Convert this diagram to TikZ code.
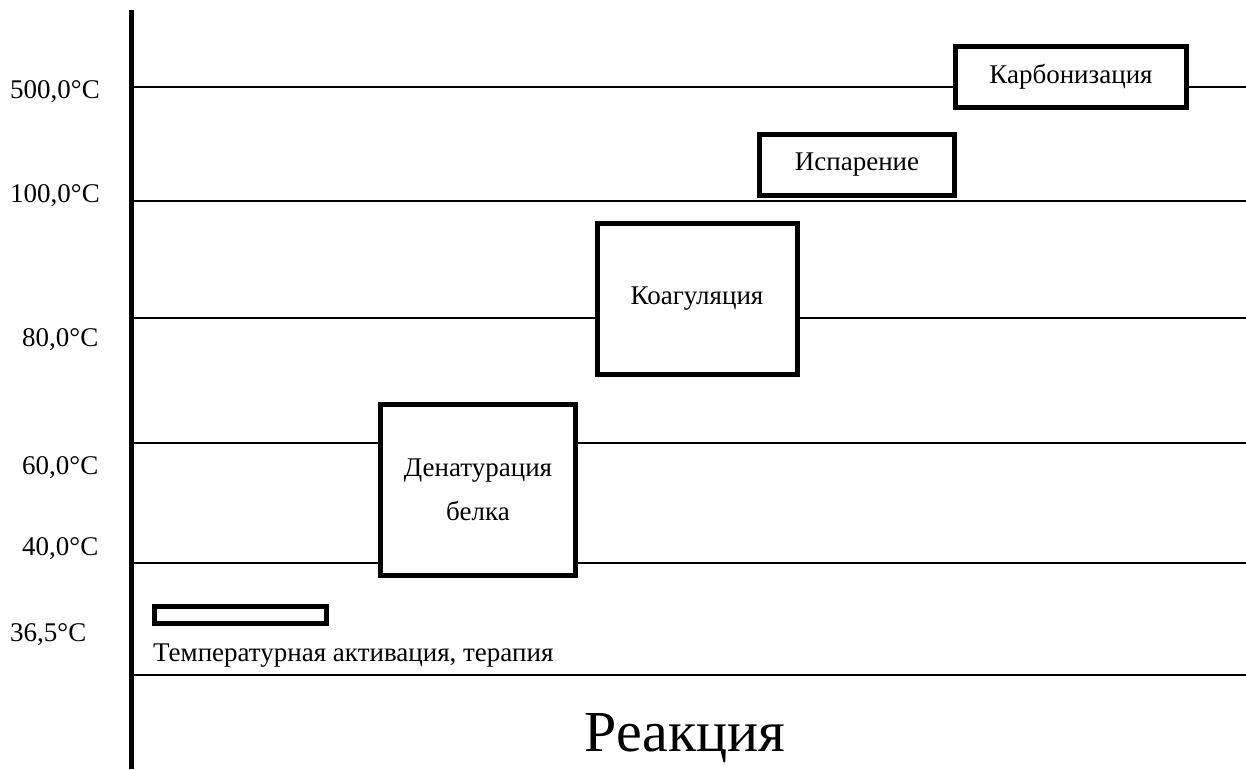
\documentclass[tikz,border=0pt]{standalone}
\usepackage{fontspec}
\setmainfont{Liberation Serif}

\tikzset{
  stagebox/.style={draw, line width=5pt, fill=white, inner sep=0pt, align=center,
    font=\fontsize{27}{44}\selectfont},
  templabel/.style={anchor=west, inner sep=0pt, font=\fontsize{27}{30}\selectfont},
}

\begin{document}
\begin{tikzpicture}[x=1pt,y=-1pt]
    \useasboundingbox (0,0) rectangle (1246,769);
    % temperature levels
    \foreach \y in {87,201,318,443,563,675}
        \draw[line width=2pt] (131,\y) -- (1246,\y);
    \draw[line width=5pt] (131,10) -- (131,769);
    % labels
    \node[templabel] (t500) at (10,92) {500,0°C};
    \node[templabel] (t100) at (10,196) {100,0°C};
    \node[templabel] (t80) at (22,340) {80,0°C};
    \node[templabel] (t60) at (22,468) {60,0°C};
    \node[templabel] (t40) at (22,549) {40,0°C};
    \node[templabel] (t36) at (10,635) {36,5°C};
    % stages
    \node[stagebox, minimum width=231pt, minimum height=61pt] (carb) at (1071,77) {Карбонизация};
    \node[stagebox, minimum width=195pt, minimum height=61pt] (evap) at (857,165) {Испарение};
    \node[stagebox, minimum width=200pt, minimum height=151pt] (coag) at (697,299) {Коагуляция};
    \node[stagebox, minimum width=195pt, minimum height=171pt] (denat) at (478,490) {Денатурация\\белка};
    \node[draw, line width=5pt, fill=white, minimum width=172pt, minimum height=17pt, inner sep=0pt] (ther) at (240,615) {};
    \node[anchor=west, inner sep=0pt, font=\fontsize{27}{30}\selectfont] (thertext) at (153,656) {Температурная активация, терапия};
    \node[font=\fontsize{58}{58}\selectfont, inner sep=0pt] (react) at (685,738) {Реакция};
\end{tikzpicture}
\end{document}
